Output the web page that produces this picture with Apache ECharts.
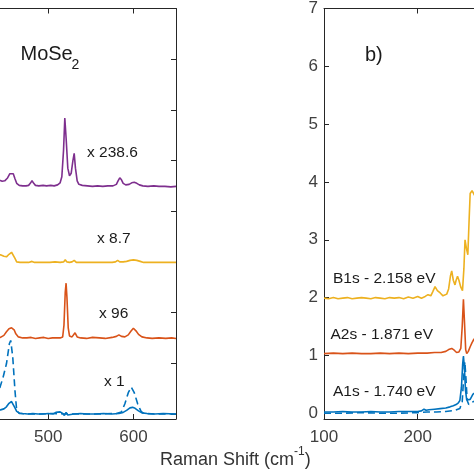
<!DOCTYPE html>
<html><head><meta charset="utf-8">
<script src="https://cdn.jsdelivr.net/npm/echarts@6/dist/echarts.min.js"></script>
<style>html,body{margin:0;padding:0;background:#fff}#c{width:474px;height:474px}</style>
</head><body><div id="c"></div>
<script>
// ---------- Panel a) MoSe2 (Raman shift, cm^-1 ; offset intensity) ----------
const leftTicksX = [400, 500, 600];
const leftLabelsX = [500, 600];
const leftTicksY = [0, 1, 2, 3, 4, 5, 6, 7, 8];
const moseX238 = [[440,4.64],[443,4.61],[446,4.59],[449,4.6],[452,4.65],[455,4.74],[457,4.77],[459,4.74],[461,4.64],[463,4.55],[466,4.51],[470,4.5],[474,4.5],[477,4.51],[479,4.55],[481,4.6],[483,4.55],[485,4.51],[489,4.5],[494,4.51],[498,4.5],[503,4.51],[507,4.5],[511,4.52],[514,4.56],[516,4.68],[518,5.2],[519.5,5.84],[521,5.45],[523,4.85],[525,4.7],[527,4.75],[529,5.0],[530.5,5.14],[532,4.85],[534,4.6],[536,4.53],[540,4.51],[546,4.5],[552,4.49],[558,4.5],[564,4.49],[570,4.5],[576,4.5],[580,4.53],[582,4.6],[584,4.66],[586,4.62],[588,4.55],[591,4.52],[595,4.53],[598,4.56],[601,4.57],[604,4.55],[607,4.52],[611,4.5],[617,4.49],[624,4.5],[630,4.49],[637,4.49],[644,4.48],[650,4.49]];
const moseX8_7 = [[440,3.12],[444,3.14],[448,3.11],[451,3.1],[454,3.15],[457,3.19],[459,3.17],[461,3.07],[463,3.0],[467,2.99],[472,2.99],[477,2.99],[481,3.01],[484,2.99],[490,2.99],[496,2.99],[502,2.99],[508,3.0],[514,2.99],[518,3.0],[520,3.04],[522,3.0],[525,2.99],[528,3.0],[530.5,3.03],[533,2.99],[538,2.99],[545,2.99],[552,2.99],[560,2.99],[568,2.99],[575,2.99],[579,3.0],[581.5,3.03],[584,3.0],[588,3.0],[592,3.01],[596,3.03],[600,3.04],[604,3.03],[608,3.01],[612,2.99],[620,2.99],[630,2.99],[640,2.99],[650,2.99]];
const moseX96 = [[440,1.52],[444,1.51],[448,1.55],[451,1.62],[454,1.68],[457,1.7],[460,1.66],[462,1.58],[465,1.52],[470,1.5],[475,1.5],[480,1.51],[485,1.49],[490,1.5],[495,1.51],[500,1.49],[505,1.5],[510,1.5],[514,1.5],[517,1.52],[518.5,1.75],[520,2.4],[521,2.58],[522,2.3],[523.5,1.7],[525,1.54],[528,1.52],[531.5,1.6],[534,1.52],[538,1.5],[545,1.49],[552,1.51],[560,1.5],[567,1.49],[575,1.51],[580,1.53],[583,1.56],[586,1.53],[590,1.52],[594,1.56],[597,1.63],[600,1.69],[603,1.64],[606,1.57],[610,1.52],[616,1.5],[622,1.49],[630,1.5],[638,1.49],[645,1.5],[650,1.49]];
const moseX1 = [[440,0.06],[444,0.08],[448,0.1],[451,0.14],[454,0.21],[457,0.245],[459,0.21],[461,0.12],[463,0.05],[466,0.02],[470,0.01],[476,0.0],[482,0.01],[488,0.0],[494,0.0],[500,0.01],[506,0.0],[509,0.03],[511,0.0],[514,0.04],[517,0.01],[519,-0.03],[521,0.03],[523,-0.02],[525,0.01],[530,0.0],[538,0.01],[546,0.0],[555,0.0],[565,0.01],[575,0.0],[583,0.01],[588,0.03],[592,0.07],[596,0.12],[599,0.13],[602,0.11],[606,0.06],[610,0.02],[616,0.01],[625,0.0],[635,0.01],[650,0.0]];
const moseX1Dashed = [[440,0.3],[443.5,0.53],[447,0.72],[451,0.99],[454.5,1.39],[456,1.45],[458.4,1.12],[461,0.46],[463,0.07],[466,0.01],[475,0.0],[490,0.0],[505,0.01],[520,0.0],[540,0.0],[560,0.0],[580,0.01],[586,0.04],[590,0.2],[594,0.42],[597.5,0.53],[601,0.42],[605,0.2],[609,0.05],[612,0.01],[625,0.0],[650,0.0]];

// ---------- Panel b) excitation-resolved spectra ----------
const rightTicksX = [100, 200, 300];
const rightLabelsX = [100, 200];
const rightTicksY = [0, 1, 2, 3, 4, 5, 6, 7];
const b1s = [[100,1.99],[105,1.98],[110,2.0],[115,1.98],[120,1.99],[125,2.0],[130,1.98],[135,1.99],[140,2.0],[145,1.99],[150,1.98],[155,2.0],[160,1.99],[165,1.98],[170,2.0],[175,1.99],[180,2.0],[185,1.98],[190,2.01],[195,1.99],[200,2.02],[204,1.99],[208,2.02],[211,2.05],[214,2.03],[216,2.1],[218.5,2.19],[221,2.12],[224,2.08],[227,2.03],[229,2.01],[231,2.06],[233,2.15],[235,2.38],[236.3,2.46],[238,2.3],[239.8,2.22],[241,2.3],[242.5,2.37],[244,2.3],[246,2.18],[247.8,2.12],[249.3,2.5],[250.5,3.0],[252,2.85],[253.5,2.74],[255,3.4],[256,3.8],[258,3.85],[260,3.82],[263,3.7],[268,3.5]];
const a2s = [[100,1.03],[110,1.04],[120,1.03],[130,1.04],[140,1.03],[150,1.03],[160,1.04],[170,1.03],[180,1.04],[190,1.03],[200,1.04],[210,1.04],[218,1.05],[225,1.05],[230,1.07],[233,1.1],[236.3,1.12],[239,1.09],[241.5,1.05],[244,1.06],[246,1.12],[247.5,1.5],[248.8,1.97],[250,1.55],[251.2,1.1],[252.3,1.03],[254,1.07],[256,1.15],[258,1.22],[260,1.28],[263,1.3],[268,1.3]];
const a1s = [[100,0.02],[110,0.02],[120,0.03],[130,0.02],[140,0.02],[150,0.03],[160,0.02],[170,0.02],[180,0.03],[190,0.03],[200,0.03],[204,0.04],[206.7,0.07],[209,0.05],[212,0.06],[218,0.07],[224,0.08],[230,0.09],[234.5,0.11],[238,0.13],[241,0.15],[243.4,0.18],[245,0.22],[246.7,0.45],[248,0.85],[248.8,0.99],[249.8,0.8],[251,0.4],[252.3,0.23],[254,0.2],[256,0.24],[259,0.33],[262,0.36],[268,0.35]];
const a1sDashed = [[100,0.0],[120,0.0],[140,0.01],[160,0.0],[180,0.0],[200,0.01],[210,0.02],[220,0.02],[230,0.03],[240,0.05],[245,0.08],[247.5,0.2],[249,0.6],[250.3,0.89],[251.5,0.6],[252.8,0.22],[254.5,0.15],[258,0.19],[262,0.22],[268,0.22]];

const C_BLUE = '#0072BD', C_ORANGE = '#D95319', C_YELLOW = '#EDB120', C_PURPLE = '#7E2F8E';
const FONT = '"Liberation Sans", Arial, Helvetica, sans-serif';
const AX = '#262626';

function xAx(grid, min, max, ticks, labels, pos, showLabel) {
  return {
    type: 'value', gridIndex: grid, min: min, max: max, position: pos,
    axisLine: { show: true, onZero: false, lineStyle: { color: AX, width: 1 } },
    axisTick: { show: true, inside: true, length: 5, customValues: ticks, lineStyle: { color: AX } },
    axisLabel: { show: showLabel, customValues: labels, interval: 0, showMinLabel: true, showMaxLabel: true, hideOverlap: false,
      margin: 10, fontSize: 17, color: '#404040', fontFamily: FONT },
    splitLine: { show: false }
  };
}
function yAx(grid, min, max, ticks, pos, showLabel) {
  return {
    type: 'value', gridIndex: grid, min: min, max: max, position: pos,
    axisLine: { show: true, onZero: false, lineStyle: { color: AX, width: 1 } },
    axisTick: { show: true, inside: true, length: 5, customValues: ticks, lineStyle: { color: AX } },
    axisLabel: { show: showLabel, customValues: ticks, interval: 0, showMinLabel: true, showMaxLabel: true,
      margin: 6, fontSize: 17, color: '#404040', fontFamily: FONT },
    splitLine: { show: false }
  };
}
function line(data, color, x, y, dashed) {
  return {
    type: 'line', data: data, xAxisIndex: x, yAxisIndex: y, showSymbol: false, symbol: 'none',
    lineStyle: { color: color, width: 1.6, type: dashed ? [7, 4] : 'solid' }, animation: false, clip: true
  };
}
function txt(s, x, y, size) {
  return { type: 'text', x: x, y: y, silent: true,
    style: { text: s, fill: '#1a1a1a', font: size + 'px ' + FONT, align: 'left', verticalAlign: 'middle' } };
}

const chart = echarts.init(document.getElementById('c'), null, { renderer: 'canvas' });
chart.setOption({
  backgroundColor: '#ffffff',
  animation: false,
  textStyle: { fontFamily: FONT },
  grid: [
    { left: -37, top: 8.5, width: 213, height: 410.5, outerBoundsMode: 'none', containLabel: false },
    { left: 324, top: 8.5, width: 187.4, height: 410.5, outerBoundsMode: 'none', containLabel: false }
  ],
  xAxis: [
    xAx(0, 400, 650, leftTicksX, leftLabelsX, 'bottom', true),
    xAx(0, 400, 650, leftTicksX, leftLabelsX, 'top', false),
    xAx(1, 100, 300, rightTicksX, rightLabelsX, 'bottom', true),
    xAx(1, 100, 300, rightTicksX, rightLabelsX, 'top', false)
  ],
  yAxis: [
    yAx(0, -0.1, 8, leftTicksY, 'left', false),
    yAx(0, -0.1, 8, leftTicksY, 'right', false),
    yAx(1, -0.1, 7, rightTicksY, 'left', true),
    yAx(1, -0.1, 7, rightTicksY, 'right', false)
  ],
  series: [
    line(moseX1Dashed, C_BLUE, 0, 0, true),
    line(moseX1, C_BLUE, 0, 0, false),
    line(moseX96, C_ORANGE, 0, 0, false),
    line(moseX8_7, C_YELLOW, 0, 0, false),
    line(moseX238, C_PURPLE, 0, 0, false),
    line(a1sDashed, C_BLUE, 2, 2, true),
    line(a1s, C_BLUE, 2, 2, false),
    line(a2s, C_ORANGE, 2, 2, false),
    line(b1s, C_YELLOW, 2, 2, false)
  ],
  graphic: [
    txt('MoSe', 20.5, 54.5, 20),
    txt('2', 71.5, 65.5, 14),
    txt('b)', 365, 55, 20),
    txt('x 238.6', 87, 152.5, 15.5),
    txt('x 8.7', 97, 238.5, 15.5),
    txt('x 96', 99, 314, 15.5),
    txt('x 1', 104, 382, 15.5),
    txt('B1s - 2.158 eV', 333, 278.5, 15.5),
    txt('A2s - 1.871 eV', 330.5, 335, 15.5),
    txt('A1s - 1.740 eV', 333, 391.5, 15.5),
    { type: 'text', x: 160, y: 460.5, silent: true,
      style: { text: '{b|Raman Shift (cm}{s|-1}{b|)}', align: 'left', verticalAlign: 'middle',
        rich: {
          b: { fontSize: 18, fontFamily: FONT, fill: '#333333', color: '#333333', lineHeight: 30 },
          s: { fontSize: 12, fontFamily: FONT, fill: '#333333', color: '#333333', lineHeight: 14, verticalAlign: 'top' }
        } } }
  ]
});
</script></body></html>
